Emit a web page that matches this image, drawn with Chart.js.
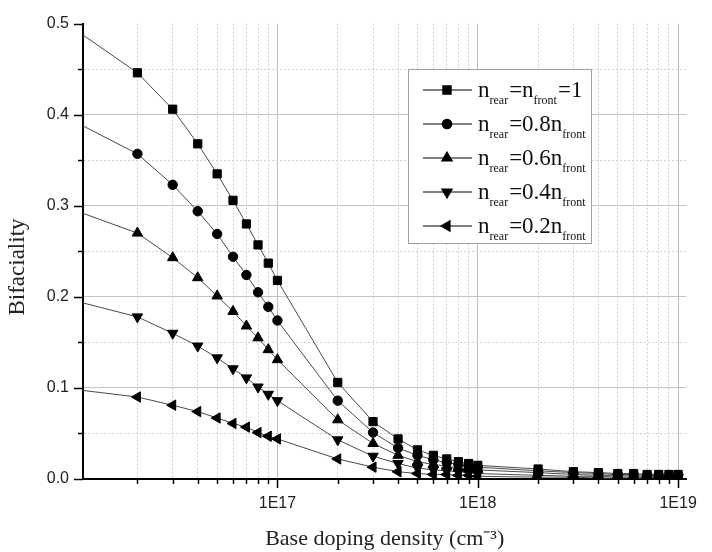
<!DOCTYPE html>
<html>
<head>
<meta charset="utf-8">
<style>
  html, body { margin: 0; padding: 0; background: #fff; }
</style>
<script src="https://cdn.jsdelivr.net/npm/chart.js"></script>
</head>
<body>
<canvas id="graph" width="712" height="552"></canvas>
<script>
// base doping density (cm^-3); the first point sits just left of the visible axis
const doping = [
  1e16, 2e16, 3e16, 4e16, 5e16, 6e16, 7e16, 8e16, 9e16,
  1e17, 2e17, 3e17, 4e17, 5e17, 6e17, 7e17, 8e17, 9e17,
  1e18, 2e18, 3e18, 4e18, 5e18, 6e18, 7e18, 8e18, 9e18, 1e19
];
const rear100 = [0.492, 0.446, 0.406, 0.368, 0.335, 0.306, 0.280, 0.257, 0.237,
  0.218, 0.106, 0.063, 0.044, 0.032, 0.026, 0.022, 0.019, 0.017,
  0.015, 0.011, 0.008, 0.007, 0.006, 0.006, 0.005, 0.005, 0.005, 0.005];
const rear80 = [0.391, 0.357, 0.323, 0.294, 0.269, 0.244, 0.224, 0.205, 0.189,
  0.174, 0.086, 0.051, 0.034, 0.026, 0.021, 0.018, 0.016, 0.014,
  0.013, 0.009, 0.007, 0.006, 0.005, 0.005, 0.004, 0.004, 0.004, 0.004];
const rear60 = [0.294, 0.270, 0.243, 0.221, 0.201, 0.184, 0.168, 0.155, 0.142,
  0.131, 0.065, 0.039, 0.026, 0.019, 0.016, 0.014, 0.012, 0.011,
  0.010, 0.007, 0.005, 0.004, 0.004, 0.003, 0.003, 0.003, 0.003, 0.003];
const rear40 = [0.195, 0.178, 0.160, 0.146, 0.133, 0.121, 0.111, 0.101, 0.093,
  0.086, 0.043, 0.025, 0.017, 0.012, 0.010, 0.009, 0.008, 0.007,
  0.006, 0.004, 0.003, 0.003, 0.002, 0.002, 0.002, 0.002, 0.002, 0.002];
const rear20 = [0.098, 0.090, 0.081, 0.074, 0.067, 0.061, 0.057, 0.051, 0.047,
  0.044, 0.022, 0.013, 0.008, 0.006, 0.005, 0.005, 0.004, 0.004,
  0.003, 0.002, 0.002, 0.001, 0.001, 0.001, 0.001, 0.001, 0.001, 0.001];

// legend text pieces: [text, isSubscript]
const legendLabels = [
  [['n', 0], ['rear', 1], ['=n', 0], ['front', 1], ['=1', 0]],
  [['n', 0], ['rear', 1], ['=0.8n', 0], ['front', 1]],
  [['n', 0], ['rear', 1], ['=0.6n', 0], ['front', 1]],
  [['n', 0], ['rear', 1], ['=0.4n', 0], ['front', 1]],
  [['n', 0], ['rear', 1], ['=0.2n', 0], ['front', 1]]
];

const xMajor = [1e17, 1e18, 1e19];
const xTickLabels = ['1E17', '1E18', '1E19'];
const yTickValues = [0, 0.05, 0.1, 0.15, 0.2, 0.25, 0.3, 0.35, 0.4, 0.45, 0.5];
const yTickLabels = ['0.0', '', '0.1', '', '0.2', '', '0.3', '', '0.4', '', '0.5'];
const yTitle = 'Bifaciality';
const xTitle = 'Base doping density (cm\u207B\u00B3)';

const xMin = 1.07e16, xMax = 1.1e19;
const serif = '"Liberation Serif", "Times New Roman", serif';
const sans = '"Liberation Sans", Arial, sans-serif';

const seriesData = [rear100, rear80, rear60, rear40, rear20];
const markers = [
  {style: 'rect', radius: 5.8, rotation: 0},
  {style: 'circle', radius: 4.7, rotation: 0},
  {style: 'triangle', radius: 6, rotation: 0},
  {style: 'triangle', radius: 6, rotation: 180},
  {style: 'triangle', radius: 6, rotation: 270}
];

function isMajorY(v) { return Math.abs(v * 10 - Math.round(v * 10)) < 1e-6; }
function isMajorX(v) { return xMajor.indexOf(v) >= 0; }

// tick marks (long on major, short on minor), y title and the boxed legend
const extras = {
  id: 'extras',
  afterDraw(chart) {
    const ctx = chart.ctx;
    const xs = chart.scales.x, ys = chart.scales.y;
    const area = chart.chartArea;
    ctx.save();
    ctx.strokeStyle = '#000';
    ctx.lineWidth = 1.5;
    xs.ticks.forEach(t => {
      const px = Math.round(xs.getPixelForValue(t.value)) + 0.5;
      const len = isMajorX(t.value) ? 9 : 5;
      ctx.beginPath();
      ctx.moveTo(px, area.bottom);
      ctx.lineTo(px, area.bottom + len);
      ctx.stroke();
    });
    ys.ticks.forEach(t => {
      const py = Math.round(ys.getPixelForValue(t.value)) + 0.5;
      const len = isMajorY(t.value) ? 9 : 5;
      ctx.beginPath();
      ctx.moveTo(area.left, py);
      ctx.lineTo(area.left - len, py);
      ctx.stroke();
    });

    // y title, sitting a little below the axis middle as in the original
    ctx.save();
    ctx.translate(18, 267);
    ctx.rotate(-Math.PI / 2);
    ctx.font = '23px ' + serif;
    ctx.fillStyle = '#222';
    ctx.textAlign = 'center';
    ctx.textBaseline = 'middle';
    ctx.fillText(yTitle, 0, 0);
    ctx.restore();

    // legend box
    const bx = 408, by = 69, bw = 183, bh = 174;
    ctx.fillStyle = '#fff';
    ctx.fillRect(bx, by, bw, bh);
    ctx.strokeStyle = '#a0a0a0';
    ctx.lineWidth = 1;
    ctx.strokeRect(bx + 0.5, by + 0.5, bw, bh);

    legendLabels.forEach((parts, i) => {
      const y = 90 + i * 34;
      const ds = chart.data.datasets[i];
      ctx.strokeStyle = '#000';
      ctx.lineWidth = 1.2;
      ctx.beginPath();
      ctx.moveTo(423, y);
      ctx.lineTo(472, y);
      ctx.stroke();
      ctx.fillStyle = '#000';
      ctx.strokeStyle = '#000';
      Chart.helpers.drawPoint(ctx, {
        pointStyle: ds.pointStyle, radius: ds.pointRadius,
        rotation: ds.pointRotation, borderWidth: 1
      }, 447, y);

      let tx = 478;
      ctx.textBaseline = 'alphabetic';
      ctx.textAlign = 'left';
      parts.forEach(([txt, sub]) => {
        ctx.font = sub ? '12px ' + serif : '23px ' + serif;
        ctx.fillStyle = '#111';
        ctx.fillText(txt, tx, sub ? y + 14 : y + 7);
        tx += ctx.measureText(txt).width + (sub ? 1 : 0);
      });
    });
    ctx.restore();
  }
};

new Chart('graph', {
  type: 'line',
  data: {
    datasets: seriesData.map((vals, i) => ({
      data: doping.map((d, k) => ({x: d, y: vals[k]})),
      borderColor: '#4a4a4a',
      borderWidth: 1,
      pointStyle: markers[i].style,
      pointRadius: markers[i].radius,
      pointRotation: markers[i].rotation,
      pointBackgroundColor: '#000',
      pointBorderColor: '#000',
      pointBorderWidth: 1,
      tension: 0,
      clip: 0
    }))
  },
  options: {
    responsive: false,
    animation: false,
    layout: {padding: {top: 22, right: 14, left: 0, bottom: 0}},
    plugins: {legend: {display: false}, tooltip: {enabled: false}},
    scales: {
      x: {
        type: 'logarithmic',
        min: xMin,
        max: xMax,
        afterBuildTicks: s => { s.ticks = doping.filter(v => v >= xMin).map(v => ({value: v})); },
        afterFit: s => { s.height = 73; },
        ticks: {
          autoSkip: false,
          maxRotation: 0,
          padding: 15,
          color: '#222',
          font: {family: sans, size: 16},
          callback: v => { const k = xMajor.indexOf(v); return k >= 0 ? xTickLabels[k] : ''; }
        },
        grid: {
          drawTicks: false,
          lineWidth: 1,
          color: c => (c.tick && isMajorX(c.tick.value)) ? '#bdbdbd' : '#cfcfcf'
        },
        border: {
          display: true, color: '#000', width: 2,
          dash: c => (c.tick && !isMajorX(c.tick.value)) ? [2, 2] : []
        },
        title: {
          display: true,
          text: xTitle,
          color: '#222',
          font: {family: serif, size: 22},
          padding: {top: 0, bottom: 0}
        }
      },
      y: {
        type: 'linear',
        min: 0,
        max: 0.5,
        afterBuildTicks: s => { s.ticks = yTickValues.map(v => ({value: v})); },
        afterFit: s => { s.width = 83; },
        ticks: {
          autoSkip: false,
          padding: 14,
          color: '#222',
          font: {family: sans, size: 16},
          callback: (v, i) => yTickLabels[i]
        },
        grid: {
          drawTicks: false,
          lineWidth: 1,
          color: c => {
            if (!c.tick) return '#c4c4c4';
            if (c.tick.value >= 0.5) return 'rgba(0,0,0,0)';
            return isMajorY(c.tick.value) ? '#c4c4c4' : '#d2d2d2';
          }
        },
        border: {
          display: true, color: '#000', width: 2,
          dash: c => (c.tick && !isMajorY(c.tick.value)) ? [2, 2] : []
        },
        title: {display: false}
      }
    }
  },
  plugins: [extras]
});
</script>
</body>
</html>
